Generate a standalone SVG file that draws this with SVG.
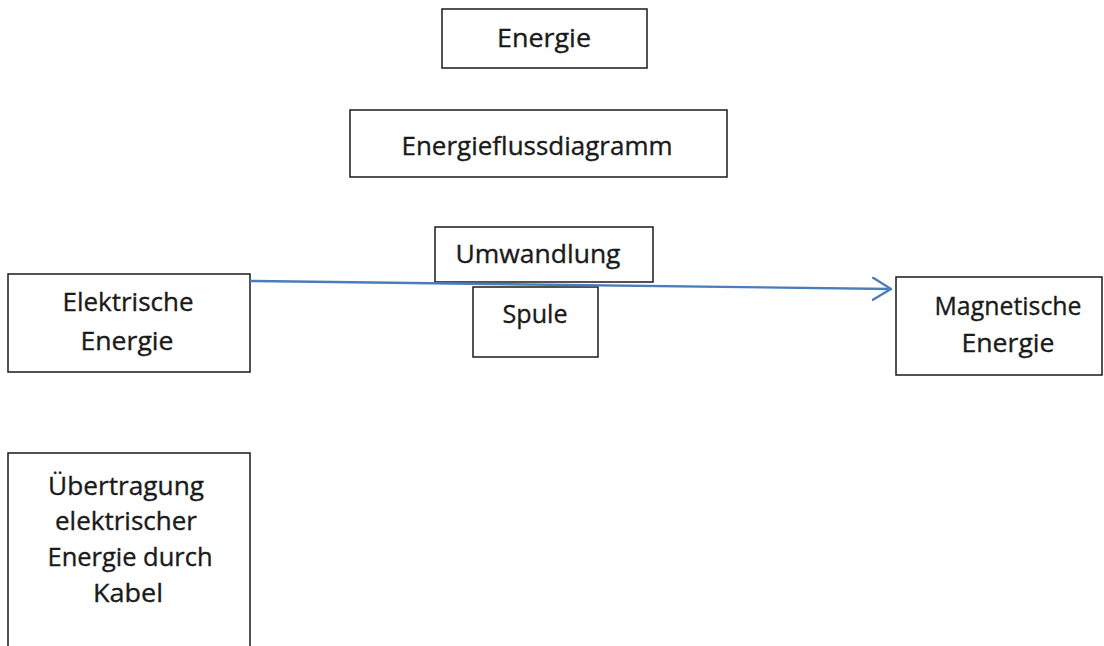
<svg xmlns="http://www.w3.org/2000/svg" width="1104" height="646" viewBox="0 0 1104 646">
<style>
.box{fill:#fff;stroke:#1a1a1a;stroke-width:1.5}
.t{font-family:"Open Sans","Liberation Sans",sans-serif;font-size:26px;fill:#1a1a1a;stroke:#1a1a1a;stroke-width:0.35;text-anchor:middle}
.conn{fill:none;stroke:#4a7ebb;stroke-width:2.4}
</style>
<defs>
<marker id="arr" viewBox="0 0 20 24" refX="19" refY="12" markerWidth="20" markerHeight="24" markerUnits="userSpaceOnUse" orient="auto">
<path d="M1,1 L19,12 L1,23" fill="none" stroke="#4a7ebb" stroke-width="2.4" stroke-linecap="round" stroke-linejoin="round"/>
</marker>
</defs>
<rect width="1104" height="646" fill="#fff"/>
<g id="energie"><rect class="box" x="442" y="9" width="205" height="59"/><text class="t" x="544" y="47" textLength="94" lengthAdjust="spacingAndGlyphs">Energie</text></g>
<g id="energieflussdiagramm"><rect class="box" x="350" y="110" width="377" height="67"/><text class="t" x="537" y="155" textLength="271" lengthAdjust="spacingAndGlyphs">Energieflussdiagramm</text></g>
<g id="elektrische"><rect class="box" x="8" y="274" width="242" height="98"/><text class="t" x="128" y="311" textLength="131" lengthAdjust="spacingAndGlyphs">Elektrische</text><text class="t" x="127" y="350" textLength="93" lengthAdjust="spacingAndGlyphs">Energie</text></g>
<g id="umwandlung"><rect class="box" x="435" y="227" width="218" height="55"/><text class="t" x="538" y="263" textLength="165" lengthAdjust="spacingAndGlyphs">Umwandlung</text></g>
<g id="spule"><rect class="box" x="473" y="287" width="125" height="70"/><text class="t" x="535" y="323" textLength="65" lengthAdjust="spacingAndGlyphs">Spule</text></g>
<g id="magnetische"><rect class="box" x="896" y="277" width="206" height="98"/><text class="t" x="1008" y="315" textLength="147" lengthAdjust="spacingAndGlyphs">Magnetische</text><text class="t" x="1008" y="352" textLength="93" lengthAdjust="spacingAndGlyphs">Energie</text></g>
<g id="uebertragung"><rect class="box" x="8" y="453" width="242" height="200"/><text class="t" x="126" y="495" textLength="156" lengthAdjust="spacingAndGlyphs">Übertragung</text><text class="t" x="126" y="530" textLength="142" lengthAdjust="spacingAndGlyphs">elektrischer</text><text class="t" x="130" y="566" textLength="165" lengthAdjust="spacingAndGlyphs">Energie durch</text><text class="t" x="128" y="602" textLength="70" lengthAdjust="spacingAndGlyphs">Kabel</text></g>
<g id="connectors"><path class="conn" d="M250,281 L891,289" marker-end="url(#arr)"/></g>
</svg>
